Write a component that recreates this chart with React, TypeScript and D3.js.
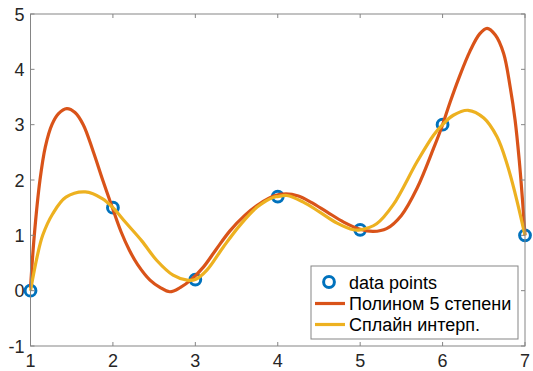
import React from 'react';
import * as d3 from 'd3';

// measured points
const dataX = [1, 2, 3, 4, 5, 6, 7];
const dataY = [0, 1.5, 0.2, 1.7, 1.1, 3, 1];

// polynomial (degree 5) curve
const polyX = [1.0, 1.046, 1.115, 1.18, 1.26, 1.34, 1.44, 1.54, 1.64, 1.76, 1.876, 2.0, 2.1, 2.2, 2.3, 2.45, 2.57, 2.69, 2.82, 2.95, 3.1, 3.25, 3.42, 3.6, 3.78, 3.95, 4.1, 4.25, 4.4, 4.6, 4.8, 5.0, 5.16, 5.32, 5.5, 5.69, 5.89, 6.0, 6.09, 6.2, 6.33, 6.45, 6.54, 6.64, 6.74, 6.82, 6.88, 6.93, 6.97, 7.0];
const polyY = [0.05, 1.0, 2.0, 2.6, 3.0, 3.2, 3.29, 3.22, 3.0, 2.52, 2.0, 1.47, 1.06, 0.73, 0.47, 0.19, 0.06, -0.02, 0.06, 0.2, 0.43, 0.74, 1.08, 1.36, 1.57, 1.71, 1.75, 1.71, 1.6, 1.42, 1.24, 1.11, 1.07, 1.12, 1.36, 1.85, 2.57, 3.0, 3.4, 3.85, 4.32, 4.64, 4.74, 4.62, 4.29, 3.68, 3.08, 2.36, 1.63, 1.0];

// spline interpolation curve
const splineX = [1.0, 1.08, 1.148, 1.27, 1.43, 1.665, 1.876, 2.0, 2.15, 2.35, 2.53, 2.73, 2.9, 3.0, 3.14, 3.34, 3.54, 3.75, 3.95, 4.0, 4.11, 4.31, 4.51, 4.72, 4.92, 5.0, 5.2, 5.4, 5.69, 5.89, 6.0, 6.13, 6.31, 6.5, 6.66, 6.78, 6.88, 7.0];
const splineY = [0.0, 0.61, 1.0, 1.39, 1.69, 1.785, 1.66, 1.5, 1.24, 0.9, 0.55, 0.28, 0.19, 0.2, 0.37, 0.79, 1.18, 1.51, 1.69, 1.7, 1.72, 1.6, 1.42, 1.22, 1.1, 1.1, 1.21, 1.55, 2.33, 2.81, 3.0, 3.17, 3.26, 3.12, 2.78, 2.3, 1.76, 1.0];

const xTicks = [1, 2, 3, 4, 5, 6, 7];
const yTicks = [-1, 0, 1, 2, 3, 4, 5];
const legendLabels = ['data points', 'Полином 5 степени', 'Сплайн интерп.'];

const W = 533;
const H = 371;
const left = 30.5, right = 525, top = 14, bottom = 346;
const BLUE = '#0072BD', RED = '#D95319', YELLOW = '#EDB120';
const AXIS = '#858585';
const FONT = '"Liberation Sans", Arial, Helvetica, sans-serif';

export default function App() {
    const x = d3.scaleLinear().domain([1, 7]).range([left, right]);
    const y = d3.scaleLinear().domain([-1, 5]).range([bottom, top]);

    const line = d3.line<[number, number]>()
        .x(d => x(d[0]))
        .y(d => y(d[1]))
        .curve(d3.curveCatmullRom.alpha(0.5));

    const polyPath = line(polyX.map((v, i) => [v, polyY[i]] as [number, number])) || '';
    const splinePath = line(splineX.map((v, i) => [v, splineY[i]] as [number, number])) || '';

    const tickLen = 4;
    // legend box
    const lg = { x: 311, y: 266, w: 207, h: 73 };
    const rowY = [282, 303.5, 324.5];

    return (
        <div style={{ position: 'absolute', left: 0, top: 0 }}>
            <svg width={W} height={H} style={{ display: 'block', background: '#fff' }} fontFamily={FONT}>
                <rect x={left} y={top} width={right - left} height={bottom - top} fill="#fff" />

                {/* data points first, curves drawn over them */}
                {dataX.map((v, i) => (
                    <circle key={i} cx={x(v)} cy={y(dataY[i])} r={5.4} fill="none" stroke={BLUE} strokeWidth={3} />
                ))}
                <path d={polyPath} fill="none" stroke={RED} strokeWidth={3.2} strokeLinejoin="round" />
                <path d={splinePath} fill="none" stroke={YELLOW} strokeWidth={3.2} strokeLinejoin="round" />

                {/* axes box */}
                <rect x={left} y={top} width={right - left} height={bottom - top} fill="none" stroke={AXIS} strokeWidth={1} />
                {xTicks.map(t => (
                    <g key={'x' + t}>
                        <line x1={x(t)} x2={x(t)} y1={bottom} y2={bottom - tickLen} stroke={AXIS} />
                        <line x1={x(t)} x2={x(t)} y1={top} y2={top + tickLen} stroke={AXIS} />
                        <text x={x(t)} y={367} textAnchor="middle" fontSize={18} fill="#262626">{t}</text>
                    </g>
                ))}
                {yTicks.map(t => (
                    <g key={'y' + t}>
                        <line x1={left} x2={left + tickLen} y1={y(t)} y2={y(t)} stroke={AXIS} />
                        <line x1={right} x2={right - tickLen} y1={y(t)} y2={y(t)} stroke={AXIS} />
                        <text x={24.5} y={y(t) + 6.5} textAnchor="end" fontSize={18} fill="#262626">{t}</text>
                    </g>
                ))}

                {/* legend */}
                <rect x={lg.x} y={lg.y} width={lg.w} height={lg.h} fill="#fff" stroke={AXIS} strokeWidth={1} />
                <circle cx={329} cy={rowY[0]} r={5.4} fill="none" stroke={BLUE} strokeWidth={3} />
                <line x1={315} x2={345} y1={rowY[1]} y2={rowY[1]} stroke={RED} strokeWidth={3.2} />
                <line x1={315} x2={345} y1={rowY[2]} y2={rowY[2]} stroke={YELLOW} strokeWidth={3.2} />
                {legendLabels.map((s, i) => (
                    <text key={s} x={349} y={rowY[i] + 6.5} fontSize={18} fill="#000">{s}</text>
                ))}
            </svg>
        </div>
    );
}
